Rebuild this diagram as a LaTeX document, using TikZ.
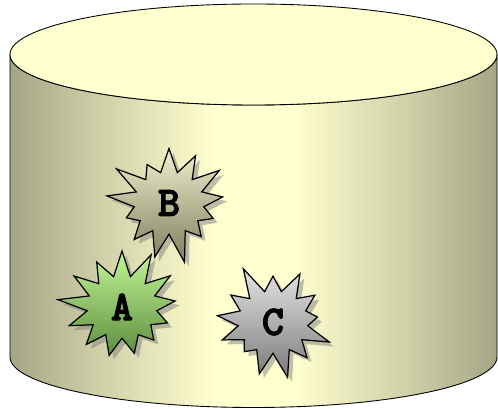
\documentclass[tikz,border=0pt]{standalone}
\usepackage{fontspec}
\setmonofont[BoldFont=lmmonolt10-bold.otf, BoldFeatures={FakeBold=2.5}]{lmmonolt10-regular.otf}
\usetikzlibrary{shapes.symbols,shadows}
\definecolor{tankedge}{RGB}{166,166,134}
\definecolor{tanklight}{RGB}{255,255,208}
\definecolor{oliveTop}{RGB}{240,240,204}
\definecolor{oliveBot}{RGB}{126,126,96}
\definecolor{greenTop}{RGB}{196,246,152}
\definecolor{greenBot}{RGB}{92,142,62}
\definecolor{greyTop}{RGB}{228,228,228}
\definecolor{greyBot}{RGB}{122,122,122}
\pgfdeclarehorizontalshading{tankshade}{100bp}{
 color(0bp)=(tankedge); color(25bp)=(tankedge);
 color(36bp)=(tankedge!45!tanklight); color(46bp)=(tanklight);
 color(54bp)=(tanklight); color(64bp)=(tankedge!45!tanklight);
 color(75bp)=(tankedge); color(100bp)=(tankedge)}
\tikzset{
 tankline/.style={draw=black, line width=0.5pt},
 burst/.style={
 starburst,
 starburst points=13,
 starburst point height=0.65cm,
 minimum width=2.7cm,
 minimum height=2.55cm,
 inner sep=0pt,
 draw=black,
 line width=0.7pt,
 drop shadow={shadow xshift=2.5pt, shadow yshift=-2.5pt, opacity=0.5},
 font=\ttfamily\bfseries\fontsize{24}{26}\selectfont
 }
}

\begin{document}
\begin{tikzpicture}[x=0.02cm, y=0.02cm]
 \useasboundingbox (0,0) rectangle (498,409);

 % tank body and lid
 \draw[tankline, shading=tankshade]
 (10,354.5) -- (10,52)
 arc[start angle=180, end angle=360, x radius=243.5, y radius=50.5]
 -- (497,354.5)
 arc[start angle=0, end angle=-180, x radius=243.5, y radius=50.5] -- cycle;
 \draw[tankline, fill=tanklight] (253.5,354.5) ellipse[x radius=243.5, y radius=50.5];

 % items in the tank
 \node[burst, random starburst=21, top color=oliveTop, bottom color=oliveBot] (itemB) at (169,206) {B};
 \node[burst, random starburst=57, top color=greenTop, bottom color=greenBot] (itemA) at (122,102) {A};
 \node[burst, random starburst=88, top color=greyTop, bottom color=greyBot] (itemC) at (273,87) {C};
\end{tikzpicture}
\end{document}
